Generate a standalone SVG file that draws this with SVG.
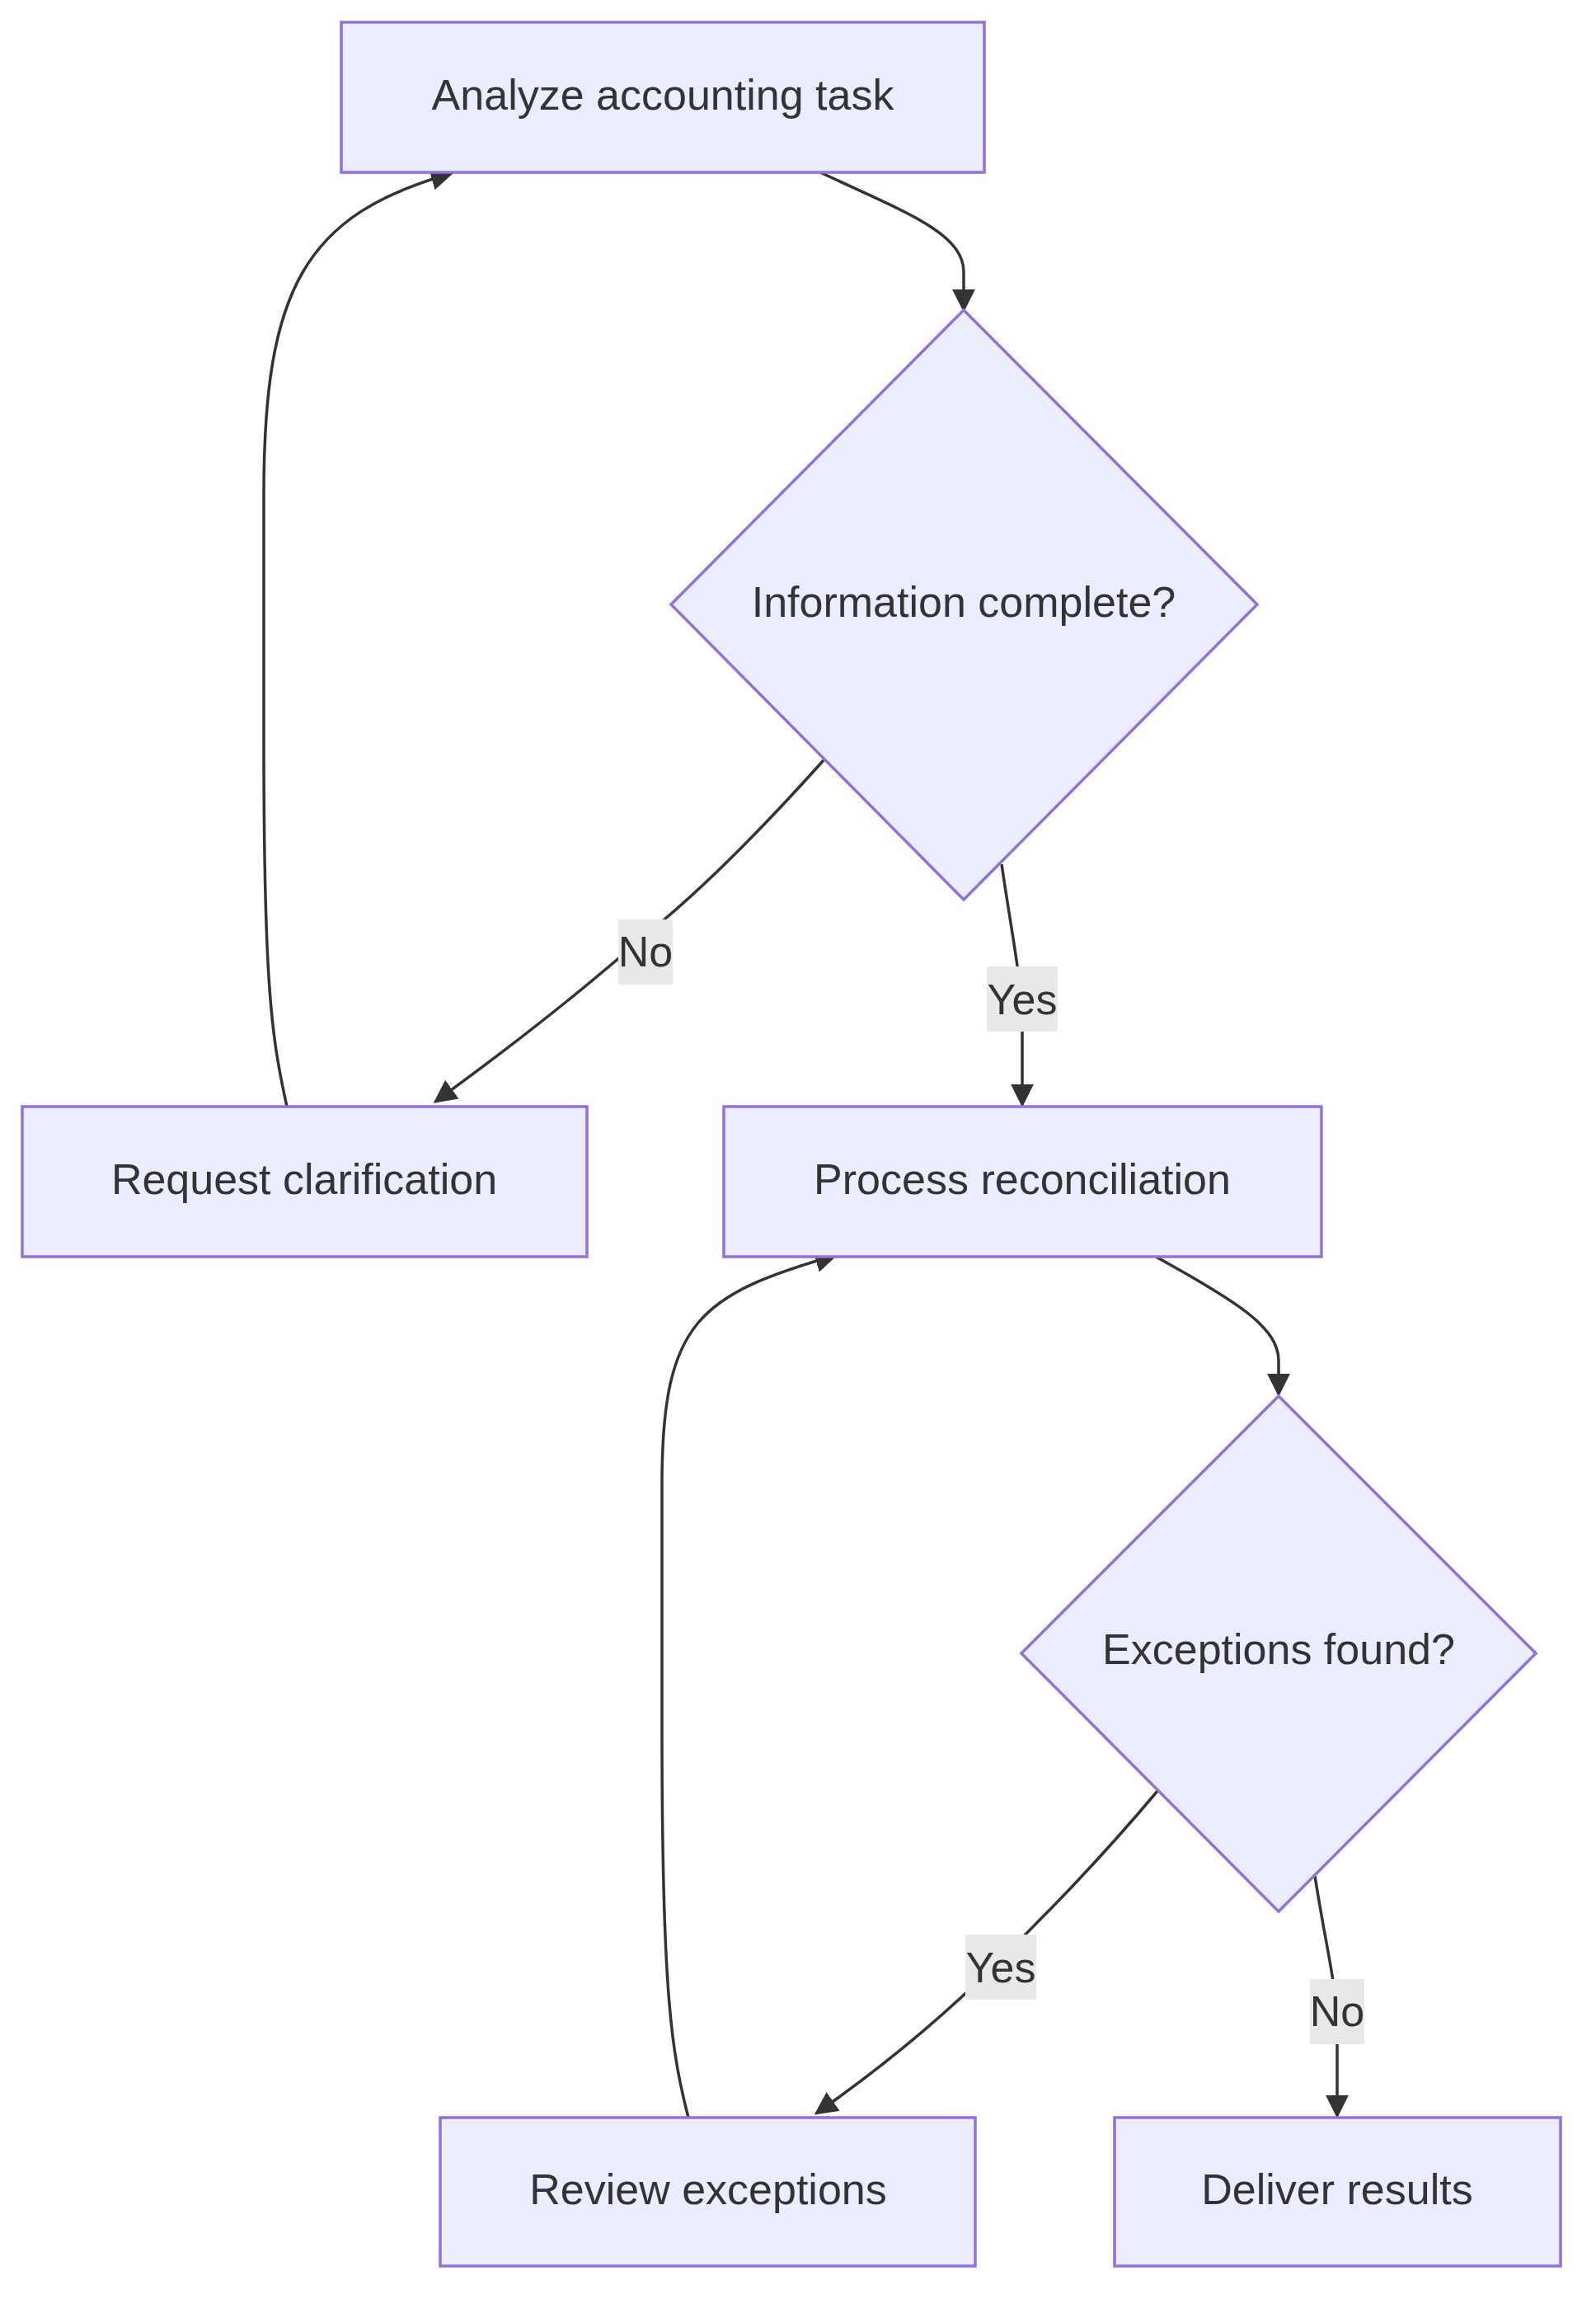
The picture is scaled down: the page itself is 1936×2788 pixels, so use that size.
<svg xmlns="http://www.w3.org/2000/svg" width="1936" height="2788" viewBox="0 0 1936 2788">
<style>
.n{fill:#ECECFF;stroke:#9370DB;stroke-width:3.5}
.t{font-family:"Liberation Sans",Arial,sans-serif;font-size:52px;fill:#333;text-anchor:middle;dominant-baseline:central}
.e{fill:none;stroke:#333;stroke-width:3.5}
.lb{fill:#e8e8e8}
</style>
<defs>
<marker id="a" viewBox="0 0 10 10" refX="9" refY="5" markerUnits="userSpaceOnUse" markerWidth="28" markerHeight="28" orient="auto"><path d="M0,0L10,5L0,10z" fill="#333"/></marker>
</defs>
<rect width="1936" height="2788" fill="#fff"/>
<g id="edges">
<path class="e" marker-end="url(#a)" d="M995,209 C1100,258 1169,283 1169,330 L1169,376"/>
<path class="e" marker-end="url(#a)" d="M999,922 C920,1010 860,1070 800,1120 C730,1180 660,1240 528,1336"/>
<path class="e" marker-end="url(#a)" d="M1215,1048 C1230,1150 1240,1190 1240,1250 L1240,1340"/>
<path class="e" marker-end="url(#a)" d="M348,1342 C330,1260 320,1200 320,900 L320,600 C320,350 370,260 548,210"/>
<path class="e" marker-end="url(#a)" d="M1402,1524 C1500,1578 1551,1610 1551,1650 L1551,1691"/>
<path class="e" marker-end="url(#a)" d="M1404,2172 C1330,2260 1270,2320 1210,2380 C1150,2440 1080,2500 990,2563"/>
<path class="e" marker-end="url(#a)" d="M1595,2275 C1610,2370 1622,2410 1622,2460 L1622,2566"/>
<path class="e" marker-end="url(#a)" d="M835,2568 C815,2490 803,2420 803,2100 L803,1800 C803,1600 850,1570 1014,1522"/>
<rect class="lb" x="750" y="1115" width="66" height="79"/><text class="t" x="783" y="1154">No</text>
<rect class="lb" x="1197" y="1172" width="86" height="79"/><text class="t" x="1240" y="1212">Yes</text>
<rect class="lb" x="1171" y="2346" width="86" height="79"/><text class="t" x="1214" y="2386">Yes</text>
<rect class="lb" x="1589" y="2400" width="66" height="79"/><text class="t" x="1622" y="2439">No</text>
</g>
<g id="n1"><rect class="n" x="414" y="27" width="780" height="182"/><text class="t" x="804" y="115">Analyze accounting task</text></g>
<g id="n2"><polygon class="n" points="1169,376 1525,733 1169,1091 814,733"/><text class="t" x="1169" y="730">Information complete?</text></g>
<g id="n3"><rect class="n" x="27" y="1342" width="685" height="182"/><text class="t" x="369" y="1430">Request clarification</text></g>
<g id="n4"><rect class="n" x="878" y="1342" width="725" height="182"/><text class="t" x="1240" y="1430">Process reconciliation</text></g>
<g id="n5"><polygon class="n" points="1551,1693 1863,2005 1551,2318 1239,2005"/><text class="t" x="1551" y="2000">Exceptions found?</text></g>
<g id="n6"><rect class="n" x="534" y="2568" width="649" height="180"/><text class="t" x="859" y="2655">Review exceptions</text></g>
<g id="n7"><rect class="n" x="1352" y="2568" width="541" height="180"/><text class="t" x="1622" y="2655">Deliver results</text></g>
</svg>
